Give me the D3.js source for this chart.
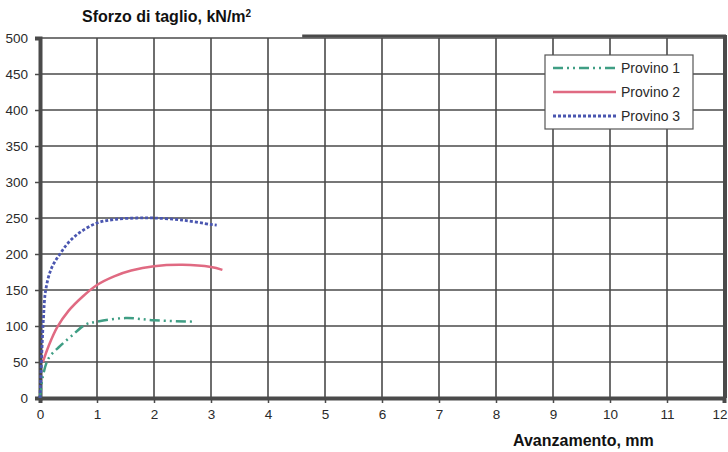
<!DOCTYPE html>
<html><head><meta charset="utf-8">
<script src="https://cdn.jsdelivr.net/npm/d3@7"></script>
<style>body{margin:0;background:#fff}svg{display:block}</style>
</head><body><svg id="c" width="728" height="452"></svg>
<script>
const xTicks = [0,1,2,3,4,5,6,7,8,9,10,11,12];
const yTicks = [0,50,100,150,200,250,300,350,400,450,500];
const seriesNames = ["Provino 1","Provino 2","Provino 3"];
const provino1 = [[0,0],[0.05,30],[0.15,55],[0.35,72],[0.55,86],[0.8,102],[1.0,106],[1.5,111],[2.0,108],[2.7,106]];
const provino2 = [[0.05,50],[0.15,72],[0.3,98],[0.5,121],[0.75,141],[1.0,157],[1.3,169],[1.6,177],[2.0,183],[2.5,185],[3.0,182],[3.2,178]];
const provino3 = [[0,0],[0.03,60],[0.06,110],[0.1,150],[0.2,180],[0.35,200],[0.5,216],[0.7,230],[1.0,243],[1.3,248],[1.7,250],[2.0,250],[2.5,247],[3.0,241],[3.1,240]];

const svg = d3.select("#c");
const L=40,R=724,T=38,B=398;
const x = d3.scaleLinear().domain([0,12]).range([L,R]);
const y = d3.scaleLinear().domain([0,500]).range([B,T]);
const font = "Liberation Sans, Arial, sans-serif";

// grid
svg.append("g").selectAll("line").data(xTicks.slice(1)).join("line")
  .attr("x1",d=>x(d)).attr("x2",d=>x(d)).attr("y1",T).attr("y2",B)
  .attr("stroke","#4a4a4a").attr("stroke-width",1.6);
svg.append("g").selectAll("line").data(yTicks.slice(1)).join("line")
  .attr("x1",L).attr("x2",R).attr("y1",d=>y(d)).attr("y2",d=>y(d))
  .attr("stroke","#4a4a4a").attr("stroke-width",1.6);
// top thick border partial
svg.append("line").attr("x1",x(4.6)).attr("x2",R+2).attr("y1",T-2).attr("y2",T-2)
  .attr("stroke","#4a4a4a").attr("stroke-width",3);
// right border
svg.append("line").attr("x1",R+1).attr("x2",R+1).attr("y1",T-3).attr("y2",B)
  .attr("stroke","#4a4a4a").attr("stroke-width",4);

// axes
const yAxis = d3.axisLeft(y).tickValues(yTicks).tickSize(5).tickPadding(6);
const gy = svg.append("g").attr("transform",`translate(${L},0)`).call(yAxis);
const xAxis = d3.axisBottom(x).tickValues(xTicks).tickSize(5).tickPadding(5);
const gx = svg.append("g").attr("transform",`translate(0,${B})`).call(xAxis);
[gy,gx].forEach(g=>{
  g.select(".domain").attr("stroke","#4a4a4a").attr("stroke-width",4);
  g.selectAll(".tick line").attr("stroke","#4a4a4a").attr("stroke-width",1.5);
  g.selectAll("text").attr("fill","#2a2a2a").attr("font-family",font).attr("font-size",13.5);
});
gy.selectAll("text").attr("x",-12);
gx.selectAll("text").attr("y",11);
gx.selectAll(".tick").filter(d=>d===12).select("text").attr("text-anchor","end").attr("dx",3);

// lines
const line = d3.line().x(d=>x(d[0])).y(d=>y(d[1])).curve(d3.curveCatmullRom.alpha(0.5));
const styles = [
  {c:"#3f9e84",w:2.5,dash:"10,4,2,4,2,4"},
  {c:"#e06a82",w:2.5,dash:null},
  {c:"#4a56b0",w:2.8,dash:"3,2"}
];
const data=[provino1,provino2,provino3];
data.forEach((d,i)=>{
  svg.append("path").datum(d).attr("d",line).attr("fill","none")
    .attr("stroke",styles[i].c).attr("stroke-width",styles[i].w)
    .attr("stroke-dasharray",styles[i].dash);
});

// legend
const lg = svg.append("g");
lg.append("rect").attr("x",545).attr("y",55).attr("width",148).attr("height",74)
  .attr("fill","#fff").attr("stroke","#555").attr("stroke-width",1.2);
seriesNames.forEach((n,i)=>{
  const yy = 68 + i*24;
  lg.append("line").attr("x1",553).attr("x2",616).attr("y1",yy).attr("y2",yy)
    .attr("stroke",styles[i].c).attr("stroke-width",styles[i].w)
    .attr("stroke-dasharray",styles[i].dash);
  lg.append("text").attr("x",621).attr("y",yy+5).text(n)
    .attr("font-family",font).attr("font-size",14).attr("fill","#2a2a2a");
});

// titles
svg.append("text").attr("x",82).attr("y",22).attr("font-family",font)
  .attr("font-weight","bold").attr("font-size",16).attr("fill","#111")
  .html('Sforzo di taglio, kN/m<tspan baseline-shift="super" font-size="10">2</tspan>');
svg.append("text").attr("x",513).attr("y",446).attr("font-family",font)
  .attr("font-weight","bold").attr("font-size",16).attr("fill","#111")
  .text("Avanzamento, mm");
</script></body></html>
